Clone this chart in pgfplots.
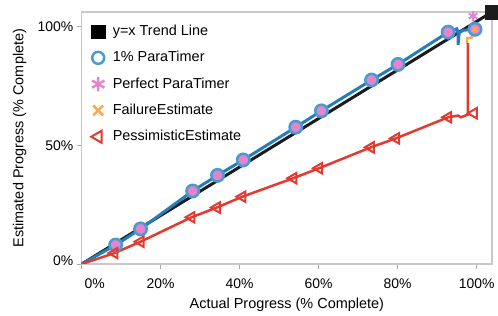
\documentclass[border=0pt]{standalone}
\usepackage{fontspec}
\setmainfont{Liberation Sans}
\usepackage{pgfplots}
\pgfplotsset{compat=1.18}
\definecolor{axgray}{RGB}{200,200,200}
\definecolor{tickgray}{RGB}{170,170,170}
\definecolor{trendblack}{RGB}{28,28,28}
\definecolor{lineblue}{RGB}{38,125,185}
\definecolor{ringblue}{RGB}{72,155,208}
\definecolor{pinkc}{RGB}{228,132,204}
\definecolor{orangec}{RGB}{250,168,80}
\definecolor{redc}{RGB}{226,58,48}
\begin{document}
\begin{tikzpicture}
\begin{axis}[
  scale only axis, width=410.3bp, height=252bp,
  xmin=0, xmax=103.9, ymin=0, ymax=106.3,
  axis line style={draw=axgray, line width=1.2bp},
  xtick={0,20,40,60,80,100},
  xticklabels={\hspace*{26bp}0\%,20\%,40\%,60\%,80\%,100\%},
  ytick={0,50,100},
  yticklabels={\raisebox{7bp}{0\%},50\%,100\%},
  xtick pos=left, ytick pos=left,
  tick align=outside, major tick length=5bp,
  tick style={draw=tickgray, line width=1bp},
  tick label style={font=\fontsize{14}{16}\selectfont},
  xticklabel style={yshift=-6bp},
  label style={font=\fontsize{14.5}{17}\selectfont},
  xlabel={Actual Progress (\% Complete)},
  ylabel={Estimated Progress (\% Complete)},
  xlabel style={at={(axis description cs:0.5,-0.1635)}, anchor=center},
  ylabel style={at={(axis description cs:-0.1511,0.5)}, anchor=center},
  legend style={at={(axis description cs:0.0195,0.955)}, anchor=north west,
    draw=none, fill=none, inner sep=0pt, row sep=10.3bp,
    font=\fontsize{14.5}{17}\selectfont,
    nodes={inner sep=1bp, text height=11bp, text depth=3bp}},
  legend cell align=left,
  legend image code/.code={\path (-7bp,0bp) (12.3bp,0bp); \draw[#1] plot coordinates {(0bp,0bp)};},
]
% legend
\addlegendimage{only marks, mark=square*, mark size=6.8bp, draw=black, fill=black}
\addlegendentry{y=x Trend Line}
\addlegendimage{only marks, mark=o, mark size=6bp, line width=2.5bp, draw=ringblue, fill=white}
\addlegendentry{1\% ParaTimer}
\addlegendimage{only marks, mark=asterisk, mark size=7.2bp, line width=2.4bp, draw=pinkc}
\addlegendentry{Perfect ParaTimer}
\addlegendimage{only marks, mark=x, mark size=7bp, line width=2.6bp, draw=orangec}
\addlegendentry{FailureEstimate}
\addlegendimage{only marks, mark=triangle, mark size=7bp, line width=2bp, draw=redc, mark options={rotate=90}}
\addlegendentry{PessimisticEstimate}

% trend line
\addplot[forget plot, trendblack, line width=3bp] coordinates {(0,0) (103.9,106.3)};
\addplot[forget plot, only marks, mark=square*, mark size=6.8bp, draw=trendblack, fill=trendblack] coordinates {(103.9,106.3)};

% 1% ParaTimer line
\addplot[forget plot, lineblue, line width=3bp] coordinates {
(0,0) (8.6,8.0) (14.9,14.8) (28.1,30.8) (34.4,37.4) (40.9,43.9) (54.2,57.7)
(60.7,64.6) (73.4,77.6) (80.1,84.2) (92.8,97.8) (95.0,99.2) (95.3,97.3)
(95.3,92.5) (95.6,97.6) (96.6,98.6) (99.6,99.0)};

% Failure estimate line
\addplot[forget plot, orangec, line width=2.5bp] coordinates {
(97.6,93.0) (97.6,95.2) (98.8,95.6) (99.6,99.0)};

% Pessimistic line
\addplot[forget plot, redc, line width=2.5bp] coordinates {
(0,0) (8.3,4.6) (14.9,9.4) (27.8,19.7) (34.2,23.8) (40.7,28.4) (53.6,36.2)
(60.1,40.4) (73.2,49.2) (79.6,53.0) (92.8,61.9) (95.3,62.6) (96.0,61.9)
(97.8,63.0) (97.8,93.2)};

% 1% ParaTimer markers
\addplot[forget plot, only marks, mark=*, mark size=6.2bp, line width=2.5bp, draw=ringblue, fill=pinkc] coordinates {
(8.6,8.0) (14.9,14.8) (28.1,30.8) (34.4,37.4) (40.9,43.9) (54.2,57.7)
(60.7,64.6) (73.4,77.6) (80.1,84.2) (92.8,97.8) (99.6,99.0)};

% Perfect ParaTimer markers
\addplot[forget plot, only marks, mark=asterisk, mark size=3.5bp, line width=2bp, draw=pinkc] coordinates {
(8.6,8.0) (14.9,14.8) (28.1,30.8) (34.4,37.4) (40.9,43.9) (54.2,57.7)
(60.7,64.6) (73.4,77.6) (80.1,84.2) (92.8,97.8)};
\addplot[forget plot, only marks, mark=asterisk, mark size=5bp, line width=2bp, draw=pinkc] coordinates {(99.1,104.6)};

% Failure estimate marker
\addplot[forget plot, only marks, mark=x, mark size=3.5bp, line width=2bp, draw=orangec] coordinates {(99.6,99.0)};

% Pessimistic markers
\addplot[forget plot, only marks, mark=triangle, mark size=6bp, line width=2bp, draw=redc, mark options={rotate=90}] coordinates {
(8.3,4.6) (14.9,9.4) (27.8,19.7) (34.2,23.8) (40.7,28.4) (53.6,36.2)
(60.1,40.4) (73.2,49.2) (79.6,53.0) (92.8,61.9) (99.3,63.6)};
\end{axis}
\pgfresetboundingbox
\path[use as bounding box] (-81.7bp,-52bp) rectangle (416.3bp,264bp);
\end{tikzpicture}
\end{document}
